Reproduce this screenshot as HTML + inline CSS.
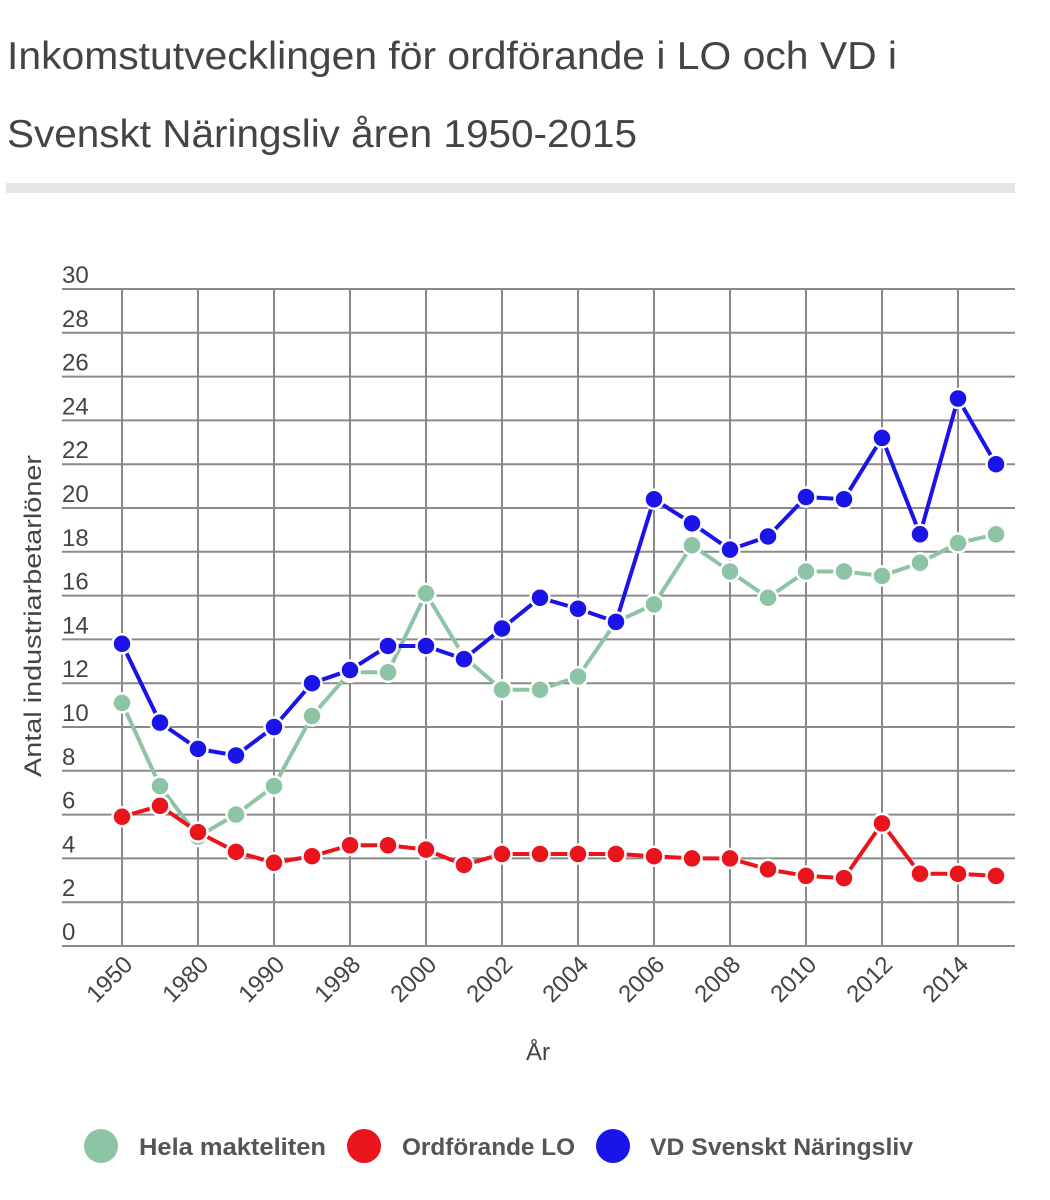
<!DOCTYPE html>
<html><head><meta charset="utf-8"><style>html,body{margin:0;padding:0;background:#fff}svg{display:block}</style></head>
<body>
<svg width="1050" height="1200" xmlns="http://www.w3.org/2000/svg" font-family="Liberation Sans, sans-serif">
<text x="7" y="69" font-size="39" fill="#444" textLength="890" lengthAdjust="spacingAndGlyphs">Inkomstutvecklingen för ordförande i LO och VD i</text>
<text x="7" y="147" font-size="39" fill="#444" textLength="630" lengthAdjust="spacingAndGlyphs">Svenskt Näringsliv åren 1950-2015</text>
<rect x="6" y="183" width="1009" height="10" fill="#e6e6e6"/>
<g id="grid" stroke="#8a8a8a" stroke-width="2"></g>
<g id="labels" fill="#444" font-size="24"></g>
<text transform="translate(41,616) rotate(-90)" text-anchor="middle" font-size="24" fill="#444" textLength="322" lengthAdjust="spacingAndGlyphs">Antal industriarbetarlöner</text>
<text x="538" y="1060" text-anchor="middle" font-size="24" fill="#444">År</text>
<g id="series"></g>
<circle cx="101" cy="1146" r="17" fill="#8ec4a6"/>
<text x="139" y="1155" font-size="24" font-weight="bold" fill="#555" textLength="187" lengthAdjust="spacingAndGlyphs">Hela makteliten</text>
<circle cx="364" cy="1146" r="17" fill="#ea141c"/>
<text x="402" y="1155" font-size="24" font-weight="bold" fill="#555" textLength="173" lengthAdjust="spacingAndGlyphs">Ordförande LO</text>
<circle cx="613" cy="1146" r="17" fill="#1a14e8"/>
<text x="650" y="1155" font-size="24" font-weight="bold" fill="#555" textLength="263" lengthAdjust="spacingAndGlyphs">VD Svenskt Näringsliv</text>
<script>
var NS="http://www.w3.org/2000/svg";
function el(p,t,a,txt){var e=document.createElementNS(NS,t);for(var k in a)e.setAttribute(k,a[k]);if(txt)e.textContent=txt;document.getElementById(p).appendChild(e);return e;}
var y0=946,dy=21.9;function Y(v){return y0-v*dy;}function X(i){return 122+38*i;}
for(var v=0;v<=30;v+=2){el("grid","line",{x1:62,x2:1015,y1:Y(v),y2:Y(v)});el("labels","text",{x:62,y:Y(v)-6},String(v));}
var xl=["1950","1980","1990","1998","2000","2002","2004","2006","2008","2010","2012","2014"];
for(var i=0;i<12;i++){var x=X(2*i);el("grid","line",{x1:x,x2:x,y1:Y(30),y2:y0});el("labels","text",{transform:"translate("+(x+12)+",966) rotate(-45)","text-anchor":"end"},xl[i]);}
var g=[11.1,7.3,5.0,6.0,7.3,10.5,12.5,12.5,16.1,13.2,11.7,11.7,12.3,14.8,15.6,18.3,17.1,15.9,17.1,17.1,16.9,17.5,18.4,18.8];
var b=[13.8,10.2,9.0,8.7,10.0,12.0,12.6,13.7,13.7,13.1,14.5,15.9,15.4,14.8,20.4,19.3,18.1,18.7,20.5,20.4,23.2,18.8,25.0,22.0];
var r=[5.9,6.4,5.2,4.3,3.8,4.1,4.6,4.6,4.4,3.7,4.2,4.2,4.2,4.2,4.1,4.0,4.0,3.5,3.2,3.1,5.6,3.3,3.3,3.2];
function ser(d,c){var p=d.map(function(v,i){return X(i)+","+Y(v);}).join(" ");
el("series","polyline",{points:p,fill:"none",stroke:c,"stroke-width":4,"stroke-linejoin":"round"});
d.forEach(function(v,i){el("series","circle",{cx:X(i),cy:Y(v),r:9.5,fill:c,stroke:"#fff","stroke-width":2.5});});}
ser(g,"#8ec4a6");ser(r,"#ea141c");ser(b,"#1a14e8");
</script>
</svg>
</body></html>
